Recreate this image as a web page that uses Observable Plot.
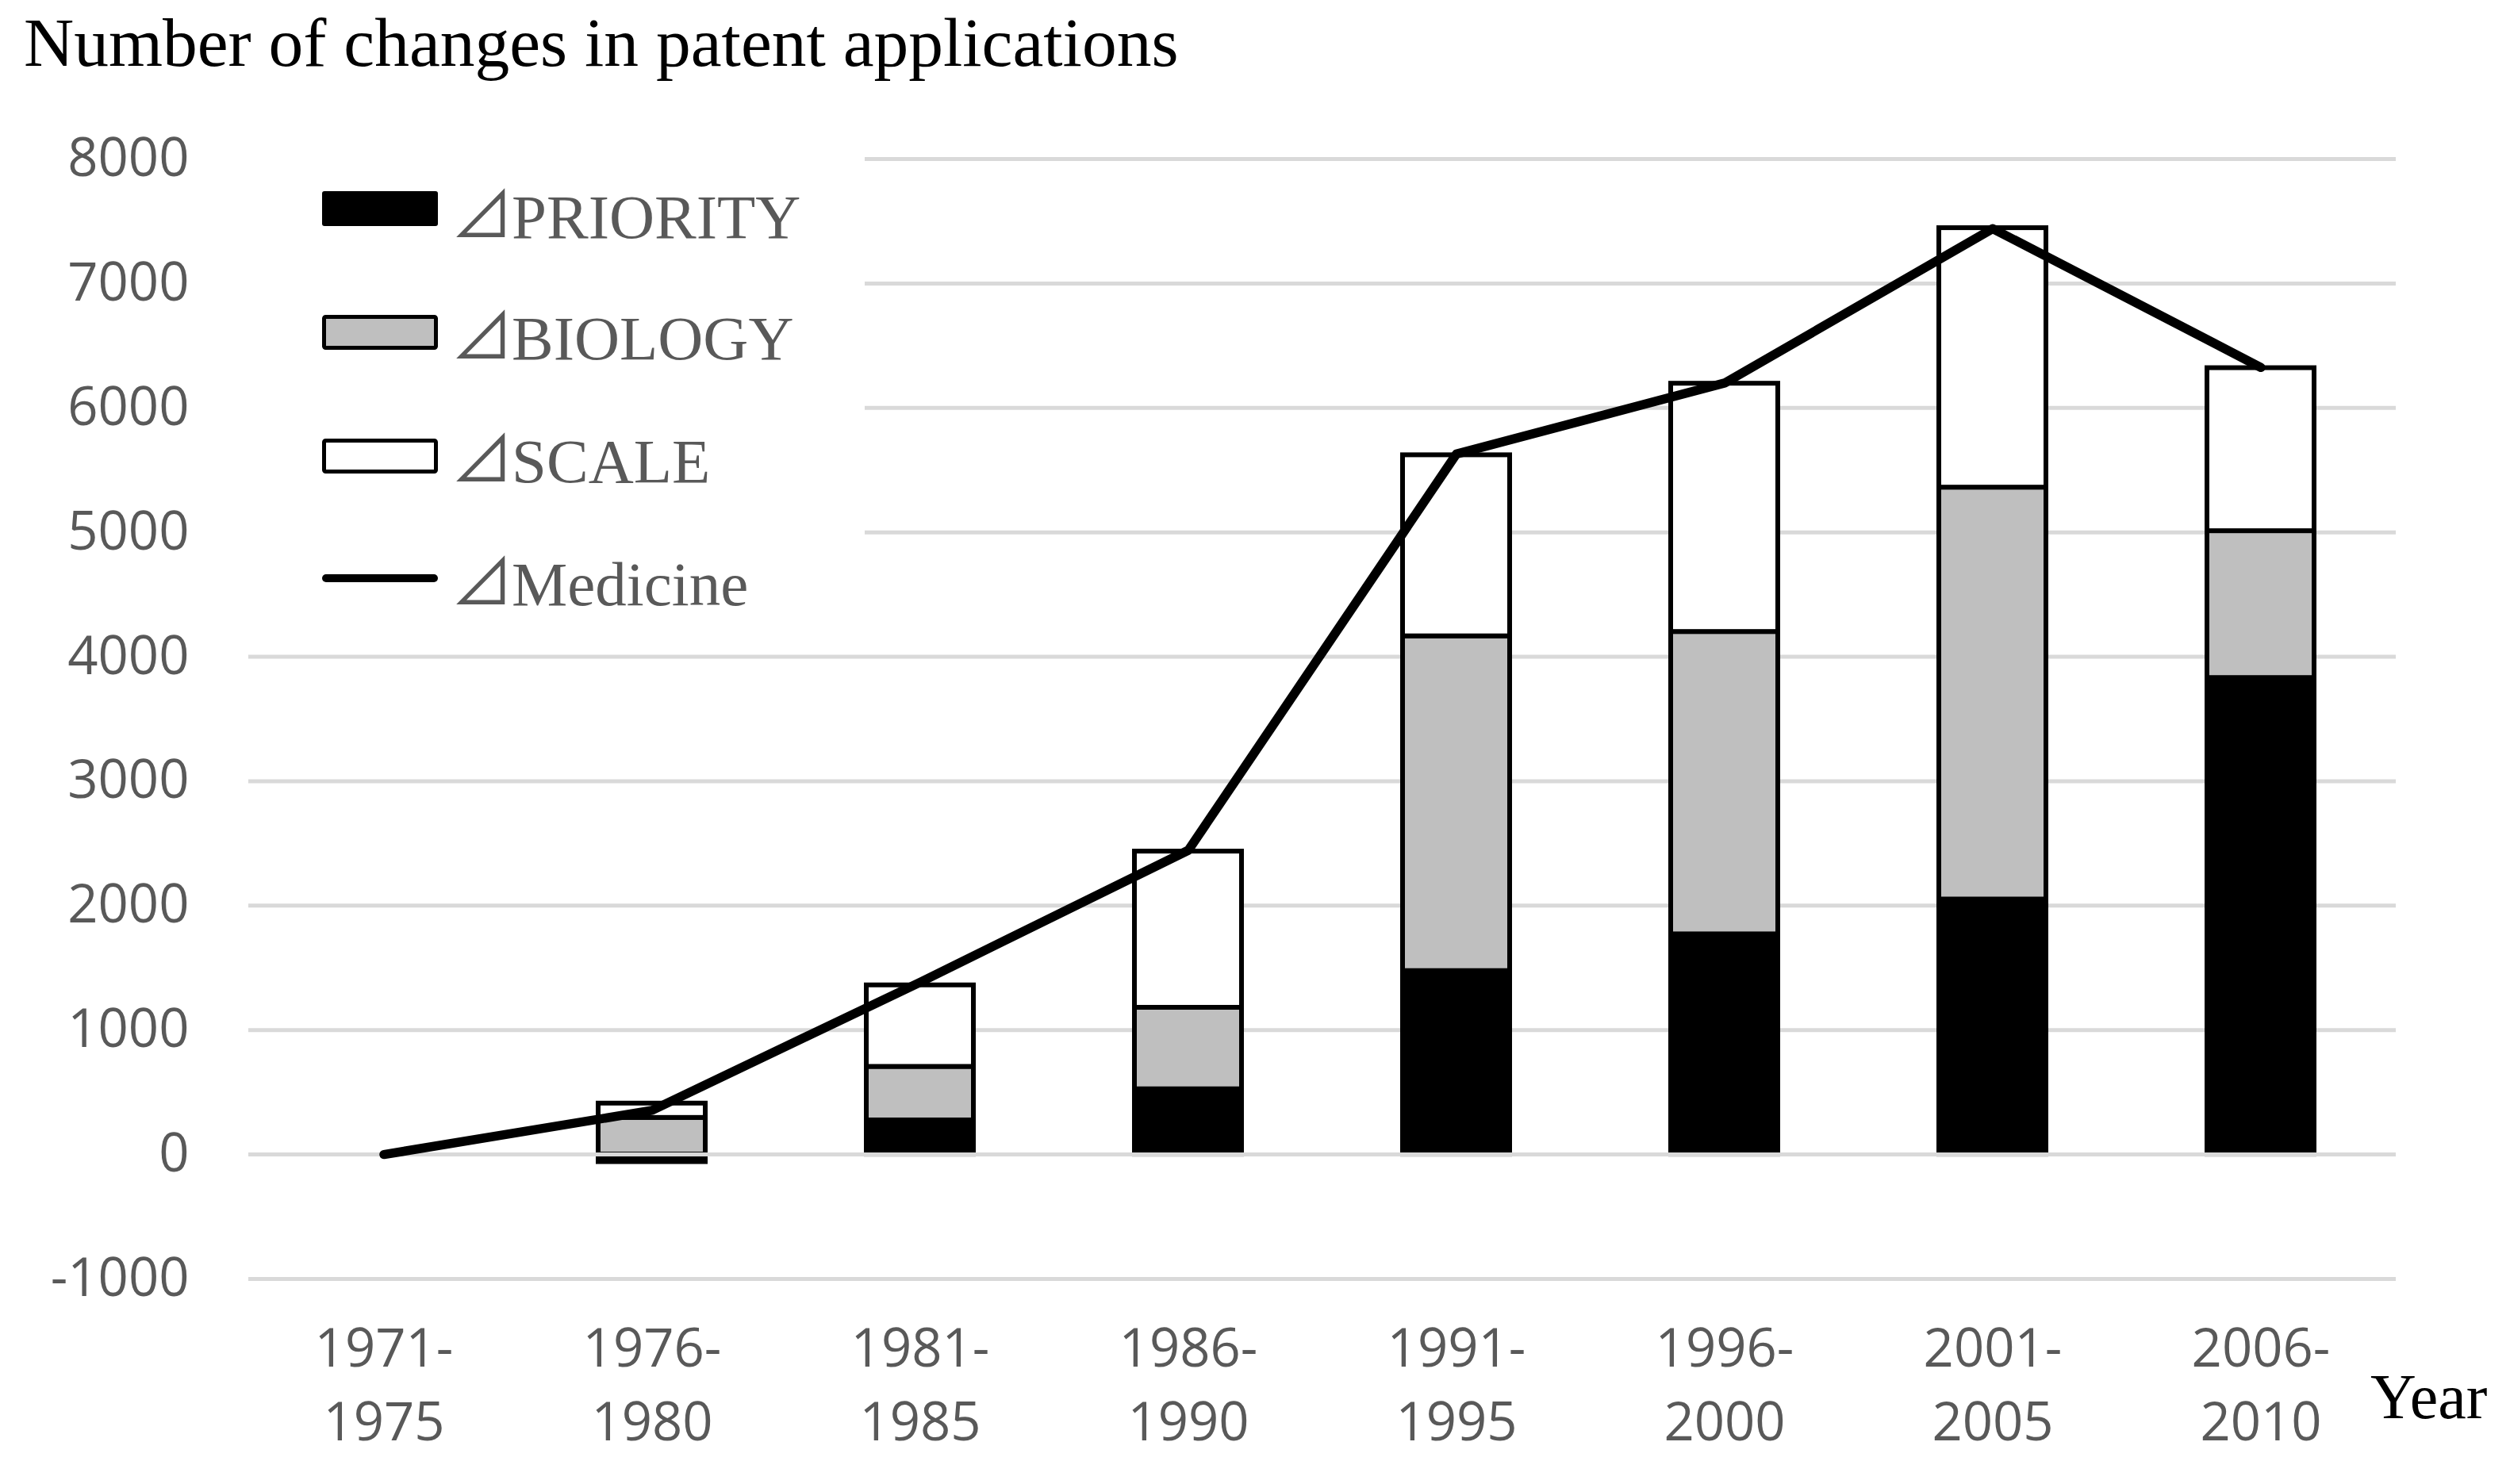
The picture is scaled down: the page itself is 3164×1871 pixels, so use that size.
<!DOCTYPE html>
<html>
<head>
<meta charset="utf-8">
<script src="https://cdn.jsdelivr.net/npm/d3@7"></script>
<script src="https://cdn.jsdelivr.net/npm/@observablehq/plot@0.6"></script>
<style>
  html, body { margin: 0; padding: 0; background: #fff; }
  #wrap { position: relative; width: 3164px; height: 1871px; overflow: hidden; }
  #title { height: 150px; box-sizing: border-box; padding: 10px 0 0 30px;
           font-family: "Liberation Serif", "Times New Roman", serif; font-size: 87.5px; line-height: 87.5px; color: #000; white-space: nowrap; }
  #year { position: absolute; left: 2988px; top: 1721px; font-family: "Liberation Serif", serif;
          font-size: 80px; line-height: 80px; color: #000; }
  #legend { position: absolute; left: 300px; top: 185px; }
</style>
</head>
<body>
<div id="wrap">
  <div id="title">Number of changes in patent applications</div>
  <div id="chart"></div>
  <div id="year">Year</div>
  <div id="legend"></div>
</div>
<script>
const periods = ["1971-1975", "1976-1980", "1981-1985", "1986-1990", "1991-1995", "1996-2000", "2001-2005", "2006-2010"];
const priority = [0, -60, 275, 525, 1475, 1770, 2050, 3830];
const biology  = [0, 295, 430, 655, 2690, 2430, 3310, 1180];
const scaleVals = [0, 115, 655, 1255, 1455, 1995, 2085, 1310];
const medicine = [0, 355, 1385, 2445, 5630, 6200, 7440, 6325];
const seriesNames = ["⊿PRIORITY", "⊿BIOLOGY", "⊿SCALE"];
const seriesColors = ["#000000", "#bfbfbf", "#ffffff"];
const yTicks = [-1000, 0, 1000, 2000, 3000, 4000, 5000, 6000, 7000, 8000];

const barData = [];
[priority, biology, scaleVals].forEach((arr, si) => {
  periods.forEach((p, i) => barData.push({period: p, series: seriesNames[si], value: arr[i]}));
});
const lineData = periods.map((p, i) => ({period: p, value: medicine[i]}));

const chart = Plot.plot({
  width: 3164,
  height: 1721,
  marginTop: 50,
  marginBottom: 259,
  marginLeft: 313,
  marginRight: 144,
  style: {fontFamily: "Open Sans", fontSize: "67px", color: "#595959", background: "white"},
  x: {type: "band", domain: periods, paddingInner: 0.6, paddingOuter: 0.3, label: null},
  y: {domain: [-1000, 8000], label: null},
  color: {domain: seriesNames, range: seriesColors},
  marks: [
    Plot.ruleY(yTicks, {stroke: "#d9d9d9", strokeWidth: 5}),
    Plot.barY(barData, {x: "period", y: "value", fill: "series", stroke: "black", strokeWidth: 6,
      filter: d => d.value !== 0}),
    Plot.ruleY([0], {stroke: "#d9d9d9", strokeWidth: 5}),
    Plot.line(lineData, {x: "period", y: "value", stroke: "black", strokeWidth: 11.5,
      strokeLinejoin: "round", strokeLinecap: "round"}),
    Plot.axisY({ticks: yTicks, tickSize: 0, tickPadding: 75, tickFormat: d => String(d), label: null}),
    Plot.axisX({tickSize: 0, tickPadding: 44, tickFormat: d => d.replace("-", "-\n"), lineHeight: 1.39, label: null})
  ]
});
document.getElementById("chart").appendChild(chart);

// Legend
const lg = d3.select("#legend").append("svg").attr("width", 790).attr("height", 630);
lg.append("rect").attr("width", 790).attr("height", 630).attr("fill", "white");
const rows = [115, 268, 423, 578];
lg.append("rect").attr("x", 106).attr("y", 56).attr("width", 146).attr("height", 44).attr("rx", 3).attr("fill", "black");
lg.append("rect").attr("x", 108.5).attr("y", 214.5).attr("width", 141).attr("height", 39).attr("rx", 2)
  .attr("fill", seriesColors[1]).attr("stroke", "black").attr("stroke-width", 5);
lg.append("rect").attr("x", 108.5).attr("y", 370.5).attr("width", 141).attr("height", 39).attr("rx", 2)
  .attr("fill", seriesColors[2]).attr("stroke", "black").attr("stroke-width", 5);
lg.append("line").attr("x1", 111).attr("x2", 247).attr("y1", 544).attr("y2", 544)
  .attr("stroke", "black").attr("stroke-width", 10).attr("stroke-linecap", "round");
const labels = ["PRIORITY", "BIOLOGY", "SCALE", "Medicine"];
labels.forEach((t, i) => {
  const tx = lg.append("text").attr("x", 268).attr("y", rows[i]).attr("fill", "#595959")
    .style("font-family", "'Liberation Serif', serif").style("font-size", "79px");
  tx.append("tspan").style("font-family", "'Noto Sans CJK JP'").text("⊿");
  tx.append("tspan").attr("x", 345).text(t);
});
</script>
</body>
</html>
